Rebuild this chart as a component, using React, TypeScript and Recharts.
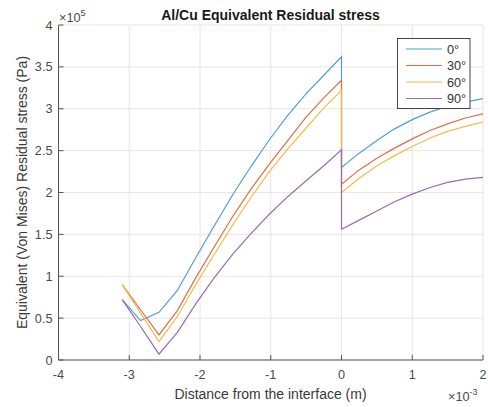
import { LineChart, Line, XAxis, YAxis, CartesianGrid } from 'recharts';

const FONT = '"Liberation Sans", Arial, Helvetica, sans-serif';

// distance in units of 1e-3 m, stress in units of 1e5 Pa
const xLeft = [-3.1, -2.84, -2.58, -2.32, -2.06, -1.8, -1.54, -1.28, -1.02, -0.76, -0.5, -0.25, 0];
const xRight = [0, 0.25, 0.5, 0.75, 1, 1.25, 1.5, 1.75, 2];

const deg0Left = [0.72, 0.47, 0.57, 0.83, 1.22, 1.6, 1.97, 2.31, 2.63, 2.92, 3.18, 3.4, 3.62];
const deg0Right = [2.3, 2.47, 2.62, 2.76, 2.87, 2.96, 3.03, 3.08, 3.12];

const deg30Left = [0.9, 0.6, 0.3, 0.59, 0.98, 1.35, 1.71, 2.04, 2.34, 2.62, 2.9, 3.13, 3.34];
const deg30Right = [2.1, 2.27, 2.41, 2.53, 2.64, 2.74, 2.82, 2.89, 2.94];

const deg60Left = [0.9, 0.56, 0.22, 0.52, 0.9, 1.26, 1.61, 1.94, 2.25, 2.52, 2.77, 3.01, 3.22];
const deg60Right = [2.0, 2.17, 2.32, 2.44, 2.55, 2.65, 2.73, 2.79, 2.84];

const deg90Left = [0.72, 0.4, 0.07, 0.33, 0.67, 0.98, 1.26, 1.51, 1.74, 1.95, 2.14, 2.32, 2.51];
const deg90Right = [1.56, 1.67, 1.78, 1.89, 1.98, 2.06, 2.12, 2.16, 2.18];

const xTicks = [-4, -3, -2, -1, 0, 1, 2];
const yTicks = [0, 0.5, 1, 1.5, 2, 2.5, 3, 3.5, 4];

const toPoints = (left: number[], right: number[]) => [
  ...xLeft.map((x, i) => ({ x, y: left[i] })),
  ...xRight.map((x, i) => ({ x, y: right[i] })),
];

const series = [
  { name: '0°', color: '#4f9fd6', data: toPoints(deg0Left, deg0Right) },
  { name: '30°', color: '#de6f4a', data: toPoints(deg30Left, deg30Right) },
  { name: '60°', color: '#efbe4a', data: toPoints(deg60Left, deg60Right) },
  { name: '90°', color: '#9a6bb0', data: toPoints(deg90Left, deg90Right) },
];

const tickStyle = { fontSize: 12.7, fill: '#4a4a4a', fontFamily: FONT };

export default function App() {
  return (
    <div style={{ position: 'absolute', left: 0, top: 0, width: 488, height: 407, background: '#fff' }}>
      <LineChart width={488} height={407} margin={{ top: 25, right: 5, bottom: 0, left: 0 }}>
        <CartesianGrid stroke="#e6e6e6" />
        <XAxis
          type="number"
          dataKey="x"
          domain={[-4, 2]}
          ticks={xTicks}
          height={47}
          tick={tickStyle}
          tickSize={-5}
          tickMargin={15}
          tickLine={{ stroke: '#555' }}
          axisLine={{ stroke: '#555' }}
          allowDataOverflow
        />
        <YAxis
          type="number"
          domain={[0, 4]}
          ticks={yTicks}
          width={58.5}
          tick={tickStyle}
          tickSize={-5}
          tickMargin={11}
          tickLine={{ stroke: '#555' }}
          axisLine={{ stroke: '#555' }}
          allowDataOverflow
        />
        {series.map((s) => (
          <Line
            key={s.name}
            data={s.data}
            dataKey="y"
            name={s.name}
            stroke={s.color}
            strokeWidth={1.2}
            dot={false}
            isAnimationActive={false}
          />
        ))}
      </LineChart>

      <svg
        width={488}
        height={407}
        style={{ position: 'absolute', left: 0, top: 0, pointerEvents: 'none' }}
        fontFamily={FONT}
      >
        <text x={270.5} y={20} textAnchor="middle" fontSize={14} fontWeight="bold" fill="#1a1a1a">
          Al/Cu Equivalent Residual stress
        </text>
        <text x={59} y={22} fontSize={12.7} fill="#4a4a4a">
          ×10<tspan dy={-6} fontSize={9}>5</tspan>
        </text>
        <text x={448} y={401} fontSize={12.7} fill="#4a4a4a">
          ×10<tspan dy={-6} fontSize={9}>-3</tspan>
        </text>
        <text x={270.5} y={399} textAnchor="middle" fontSize={14} fill="#3a3a3a">
          Distance from the interface (m)
        </text>
        <text
          x={27}
          y={192.5}
          textAnchor="middle"
          fontSize={14}
          fill="#3a3a3a"
          transform="rotate(-90 27 192.5)"
        >
          Equivalent (Von Mises) Residual stress (Pa)
        </text>

        <rect x={397.5} y={38.5} width={72.5} height={70} fill="#fff" stroke="#444" strokeWidth={1} />
        {series.map((s, i) => (
          <g key={s.name}>
            <line x1={406} x2={442} y1={49 + i * 16.5} y2={49 + i * 16.5} stroke={s.color} strokeWidth={1.2} />
            <text x={447} y={53.5 + i * 16.5} fontSize={12.7} fill="#333">
              {s.name}
            </text>
          </g>
        ))}
      </svg>
    </div>
  );
}
